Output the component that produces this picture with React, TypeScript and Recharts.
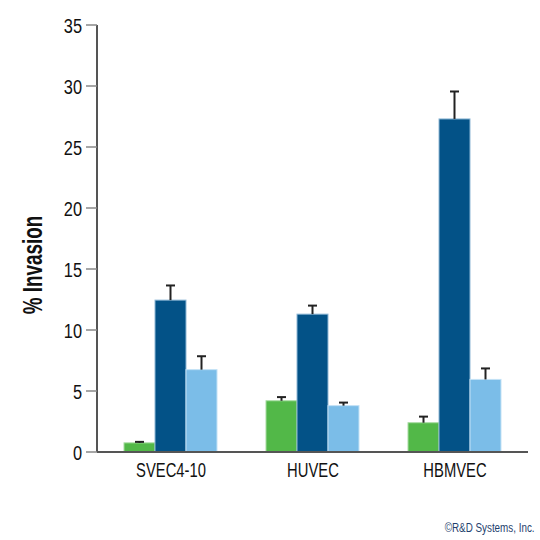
import React from 'react';
import { BarChart, Bar, XAxis, YAxis } from 'recharts';

const categories = ['SVEC4-10', 'HUVEC', 'HBMVEC'];
const greenValues = [0.75, 4.2, 2.4];
const greenErrors = [0.08, 0.3, 0.5];
const darkValues = [12.45, 11.3, 27.3];
const darkErrors = [1.2, 0.7, 2.25];
const lightValues = [6.75, 3.8, 5.95];
const lightErrors = [1.1, 0.25, 0.9];
const yTicks = [0, 5, 10, 15, 20, 25, 30, 35];

const data = categories.map((c, i) => ({
  name: c,
  green: greenValues[i],
  greenErr: greenErrors[i],
  dark: darkValues[i],
  darkErr: darkErrors[i],
  light: lightValues[i],
  lightErr: lightErrors[i],
}));

const FONT = '"Liberation Sans", Arial, sans-serif';

const YTick = (props: any) => {
  const { x, y, payload } = props;
  return (
    <text
      transform={`translate(${x},${y}) scale(0.78,1)`}
      textAnchor="end"
      dy="0.36em"
      fontFamily={FONT}
      fontSize={21}
      fill="#111"
    >
      {payload.value}
    </text>
  );
};

const XTick = (props: any) => {
  const { x, y, payload } = props;
  return (
    <text
      transform={`translate(${x},${y}) scale(0.74,1)`}
      textAnchor="middle"
      dy={17}
      fontFamily={FONT}
      fontSize={20}
      fill="#111"
    >
      {payload.value}
    </text>
  );
};

const YLabel = () => (
  <text
    transform="translate(32,265) rotate(-90) scale(0.7,1)"
    textAnchor="middle"
    dy="0.36em"
    fontFamily={FONT}
    fontSize={27}
    fontWeight="bold"
    fill="#111"
  >
    % Invasion
  </text>
);

const makeShape = (errKey: string, fill: string, stroke: string) => (props: any) => {
  const { x, y, width, height, payload, value } = props;
  const v = Array.isArray(value) ? value[1] - value[0] : value;
  const pxPerUnit = v ? height / v : 0;
  const err = payload[errKey];
  const top = y - err * pxPerUnit;
  const cx = x + width / 2;
  return (
    <g>
      <rect x={x} y={y} width={width} height={height} fill={fill} stroke={stroke} strokeWidth={1} />
      <line x1={cx} y1={y} x2={cx} y2={top} stroke="#222" strokeWidth={2} />
      <line x1={cx - 4.5} y1={top} x2={cx + 4.5} y2={top} stroke="#222" strokeWidth={2} />
    </g>
  );
};

export default function App() {
  return (
    <div style={{ position: 'absolute', left: 0, top: 0, width: 540, height: 540, background: '#fff' }}>
      <BarChart
        width={540}
        height={540}
        data={data}
        margin={{ top: 25, right: 12, bottom: 58, left: 0 }}
        barGap={0}
        barCategoryGap={24}
      >
        <XAxis
          dataKey="name"
          padding={{ left: 3, right: 2 }}
          tickLine={false}
          axisLine={{ stroke: '#555', strokeWidth: 2 }}
          tick={<XTick />}
          height={30}
        />
        <YAxis
          width={97}
          domain={[0, 35]}
          ticks={yTicks}
          interval={0}
          tickSize={11}
          tickMargin={4}
          axisLine={{ stroke: '#555', strokeWidth: 2 }}
          tickLine={{ stroke: '#888', strokeWidth: 1.5 }}
          tick={<YTick />}
          label={<YLabel />}
        />
        <Bar dataKey="green" isAnimationActive={false} shape={makeShape('greenErr', '#52b848', '#a8dca2')} />
        <Bar dataKey="dark" isAnimationActive={false} shape={makeShape('darkErr', '#035287', '#8fb8d6')} />
        <Bar dataKey="light" isAnimationActive={false} shape={makeShape('lightErr', '#7bbde8', '#c4e2f6')} />
      </BarChart>
      <div
        style={{
          position: 'absolute',
          right: 5,
          top: 521,
          fontFamily: FONT,
          fontSize: 12,
          color: '#1f3f6e',
          transform: 'scaleX(0.82)',
          transformOrigin: 'right center',
          whiteSpace: 'nowrap',
        }}
      >
        ©R&amp;D Systems, Inc.
      </div>
    </div>
  );
}
